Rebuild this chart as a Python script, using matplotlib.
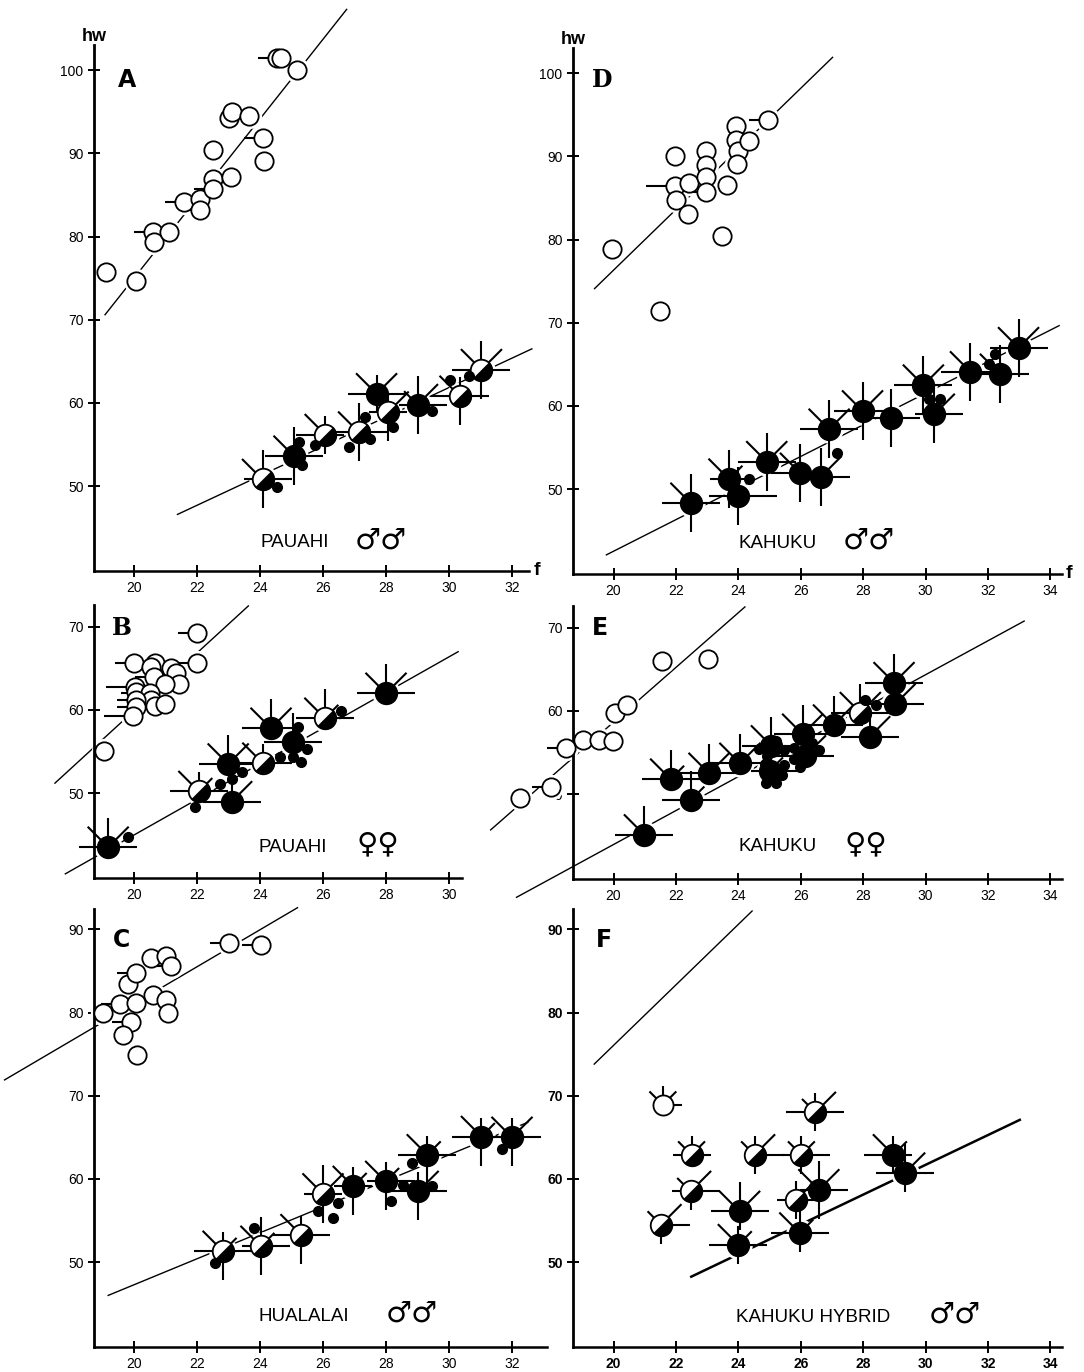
import numpy as np
import matplotlib
matplotlib.use("Agg")
import matplotlib.pyplot as plt
from matplotlib.path import Path

# ---- data (f = x, hw = y) ----

# A  Pauahi males
a_open_f = [19.12, 20.07, 20.6, 20.63, 21.12, 21.58, 22.08, 22.08, 22.52, 22.52,
            22.52, 23.07, 23.0, 23.1, 23.65, 24.1, 24.13, 24.55, 24.68, 25.19]
a_open_hw = [75.7, 74.6, 80.6, 79.4, 80.6, 84.1, 84.5, 83.2, 90.45, 86.9,
             85.7, 87.1, 94.2, 95.0, 94.5, 91.9, 89.1, 101.5, 101.5, 100.0]
a_open_rays = ["", "", "W1", "", "", "W1", "", "W1", "", "",
               "W1", "", "", "", "", "W1", "", "W1", "", ""]
a_big_f = [24.08, 25.08, 26.07, 27.13, 27.7, 28.07, 29.0, 30.35, 31.03]
a_big_hw = [50.8, 53.6, 56.2, 56.5, 61.1, 58.9, 59.8, 60.8, 64.0]
a_big_fill = ["h", "f", "h", "h", "f", "h", "f", "h", "h"]
a_big_rays = ["N2 S2 W1 E2 NW2", "N2 S2 W2 E2 NW2", "N1 S1 W2 E1 NW2",
              "N2 S2 W2 E2 NW2", "N1 S1 W2 E2 NW2 NE2", "N1 S2 W1 E1 NE2",
              "N2 S2 W1 E2 NW1 NE2", "N1 S2 W2 E2 NW2", "N2 S2 W2 E2 NW2 NE2"]
a_dot_f = [24.55, 25.23, 25.32, 25.74, 26.84, 27.33, 27.49, 28.23, 29.45, 30.04, 30.65]
a_dot_hw = [49.9, 55.3, 52.5, 54.9, 54.7, 58.3, 55.7, 57.1, 59.0, 62.7, 63.2]
a_line_f = [[19.08, 26.75], [21.38, 32.63]]
a_line_hw = [[70.6, 107.3], [46.6, 66.5]]

# B  Pauahi females
b_open_f = [21.99, 21.99, 20.0, 20.66, 20.53, 21.16, 21.33, 20.62, 21.42, 20.99,
            20.03, 20.05, 20.5, 20.53, 20.05, 20.07, 20.66, 20.99, 19.96, 19.06]
b_open_hw = [69.2, 65.7, 65.7, 65.7, 65.2, 65.0, 64.4, 63.9, 63.1, 63.1,
             62.7, 62.1, 62.0, 61.2, 61.2, 60.3, 60.5, 60.7, 59.3, 55.1]
b_open_rays = ["W1", "W1", "W1", "", "", "", "", "W1", "", "",
               "W2", "", "W2", "", "W1", "W1", "", "", "W2", ""]
b_big_f = [19.18, 22.06, 22.99, 23.1, 24.09, 24.35, 25.04, 26.06, 28.0]
b_big_hw = [43.5, 50.2, 53.5, 48.97, 53.6, 57.8, 56.2, 59.0, 62.0]
b_big_fill = ["f", "h", "f", "f", "h", "f", "f", "h", "f"]
b_big_rays = ["N2 W2 E2 NW2 NE2", "N1 W2 E2 NW2 NE1", "N2 W2 E2 NW2 NE2",
              "N1 W2 E2 NE2", "N1 W2 E2 NW2", "N2 W2 E2 NW2 NE2",
              "N2 W2 E2", "N2 W2 E2 NW2 NE1", "N2 W2 E2 NW2 NE2"]
b_dot_f = [19.81, 21.95, 22.74, 23.11, 23.43, 24.65, 25.04, 25.31, 25.49, 25.2, 26.58]
b_dot_hw = [44.7, 48.3, 51.1, 51.7, 52.6, 54.4, 54.4, 53.8, 55.3, 57.9, 59.9]
b_line_f = [[17.49, 23.63], [17.82, 30.29]]
b_line_hw = [[51.2, 72.5], [40.3, 67.0]]

# C  Hualalai males
c_open_f = [19.01, 19.54, 20.07, 19.81, 20.06, 19.92, 19.65, 20.09, 20.53, 21.03,
            21.19, 20.61, 21.03, 21.08, 23.02, 24.04]
c_open_hw = [79.9, 81.0, 81.2, 83.4, 84.8, 78.9, 77.3, 74.9, 86.6, 86.8,
             85.6, 82.1, 81.5, 79.9, 88.4, 88.1]
c_open_rays = ["", "W1", "", "", "W1", "W1", "", "", "", "",
               "W1", "", "", "", "W1", "W1"]
c_big_f = [22.83, 24.03, 25.3, 26.0, 26.96, 27.99, 29.02, 29.31, 31.03, 32.0]
c_big_hw = [51.3, 51.9, 53.3, 58.2, 59.1, 59.7, 58.5, 62.9, 65.1, 65.0]
c_big_fill = ["h", "h", "h", "h", "f", "f", "f", "f", "f", "f"]
c_big_rays = ["N1 S2 W2 E2 NW2 NE1", "N2 S2 W1 E2 NW2 NE1", "N1 S2 W2 E2 NW2",
              "N2 S2 W1 E1 NW2 NE2", "N1 S2 W1 E1 NW2 NE1", "N1 S2 W1 E2 NW2 NE1",
              "N1 S2 W2 E2 NE2", "N1 S2 W2 E2 NW2 NE1", "N1 S2 W2 E1 NW2 NE1",
              "N1 S2 W1 E2 NW2 NE2"]
c_dot_f = [22.57, 23.82, 25.83, 26.48, 26.33, 28.15, 28.54, 28.82, 29.46, 31.67]
c_dot_hw = [49.9, 54.1, 56.2, 57.1, 55.3, 57.3, 59.3, 61.9, 59.1, 63.6]
c_line_f = [[15.89, 25.19], [19.18, 32.5]]
c_line_hw = [[71.9, 92.6], [46.0, 66.8]]

# D  Kahuku males
d_open_f = [19.94, 21.98, 21.96, 21.99, 22.42, 22.4, 22.95, 22.97, 22.95, 22.95,
            23.64, 23.48, 21.49, 23.92, 23.94, 23.98, 23.97, 24.33, 24.94]
d_open_hw = [78.9, 90.1, 86.4, 84.8, 86.8, 83.1, 90.6, 88.9, 87.5, 85.7,
             86.6, 80.4, 71.4, 93.7, 92.0, 90.7, 89.1, 91.9, 94.4]
d_open_rays = ["", "", "W2", "", "", "", "", "", "", "W1",
               "", "", "", "", "", "", "", "", "W1"]
d_big_f = [22.48, 23.7, 24.0, 24.91, 25.99, 26.65, 26.91, 27.98, 28.9, 29.93,
           30.28, 31.44, 32.4, 32.98]
d_big_hw = [48.3, 51.2, 49.2, 53.3, 51.9, 51.5, 57.2, 59.4, 58.6, 62.5,
            59.0, 64.1, 63.8, 67.0]
d_big_fill = ["f"] * 14
d_big_rays = ["N2 S2 W2 E2 NW2", "N2 S2 W1 E1 NW2 NE1", "N2 S2 W2 E3",
              "N2 S2 W2 E2 NW2 NE2", "N2 S2 W2 E2 NW2", "N2 S2 W2 E2 NE2",
              "N2 S2 W2 E2 NW2 NE2", "N2 S2 W2 E2 NW2 NE2", "N2 S2 W2 E2",
              "N2 S2 W2 E2 NW2 NE2", "N2 S2 W1 E2 NE2", "N2 S2 W2 E2 NW2",
              "N2 S2 W2 E2 NW2", "N2 S2 W2 E2 NW2 NE2"]
d_dot_f = [24.33, 27.17, 30.11, 30.46, 32.04, 32.21]
d_dot_hw = [51.2, 54.4, 60.8, 60.8, 65.0, 66.3]
d_line_f = [[19.39, 27.02], [19.77, 34.28]]
d_line_hw = [[74.1, 101.9], [42.1, 69.65]]

# E  Kahuku females
e_open_f = [21.56, 23.02, 20.04, 20.44, 18.46, 19.02, 19.52, 19.98, 17.99, 16.99]
e_open_hw = [66.0, 66.3, 59.8, 60.7, 55.6, 56.5, 56.5, 56.4, 50.9, 49.5]
e_open_rays = ["", "", "", "", "W1", "", "", "", "W1", ""]
e_big_f = [20.99, 21.83, 22.48, 23.06, 24.05, 25.06, 25.0, 26.06, 26.15, 27.05,
           27.91, 28.21, 28.99, 29.02]
e_big_hw = [45.1, 51.8, 49.3, 52.5, 53.7, 55.8, 52.8, 57.2, 54.6, 58.3,
            59.8, 56.9, 63.4, 60.8]
e_big_fill = ["f", "f", "f", "f", "f", "f", "f", "f", "f", "f", "h", "f", "f", "f"]
e_big_rays = ["N2 W2 E2 NW2", "N2 W2 E2 NW2 NE1", "N2 W2 E2 NE1",
              "N2 W2 E2 NW2 NE2", "N2 W2 E2 NW2 NE2", "N2 W2 E1 NW2",
              "W1 E2 NE1", "N2 W2 E2 NW2 NE2", "N2 W2 E2 NE2",
              "N2 W2 E2 NW2 NE2", "N2 W2 E2 NW2 NE2", "N2 W2 E2 NE2",
              "N2 W2 E2 NW2 NE2", "N2 W2 E2 NE2"]
e_dot_f = [24.67, 24.91, 24.85, 25.22, 25.47, 25.47, 25.41, 24.88, 25.2, 25.78,
           25.99, 25.78, 26.36, 26.58, 28.06, 28.41]
e_dot_hw = [55.4, 54.6, 53.6, 56.4, 55.3, 53.5, 52.3, 51.3, 51.3, 54.2,
            53.3, 55.6, 56.1, 55.3, 61.3, 60.7]
e_line_f = [[16.06, 24.21], [16.89, 33.16]]
e_line_hw = [[45.7, 72.5], [37.6, 70.8]]

# F  Kahuku hybrid males
f_big_f = [21.58, 22.5, 22.47, 21.52, 24.52, 24.04, 24.0, 26.02, 26.47, 25.86,
           25.97, 26.58, 28.97, 29.33]
f_big_hw = [68.9, 62.9, 58.5, 54.5, 62.9, 56.1, 52.1, 62.9, 68.0, 57.5,
            53.5, 58.7, 62.9, 60.7]
f_big_fill = ["o", "h", "h", "h", "h", "f", "f", "h", "h", "h", "f", "f", "f", "f"]
f_big_rays = ["N1 E1 NW1 NE1", "N1 W1 E1 NW1 NE1", "S1 W1 E2 NW1 NE2",
              "S1 E2 NW1 NE2", "N1 S1 E2 NW1 NE2", "N2 S1 W2 E2 NW2 NE2",
              "N1 S1 W2 E2 NW2 NE1", "N1 S1 W1 E2 NW1 NE1", "N1 S1 W2 E2 NW1 NE2",
              "N1 S1 W1 E1 NE1", "N2 S1 W2 E2 NW2 NE1", "N2 S2 W1 E2 NW2 NE2",
              "N1 S1 W2 E1 NW2 NE1", "N2 S1 W2 E2 NE2"]
f_line_f = [[19.38, 24.44], [22.49, 33.02]]
f_line_hw = [[73.8, 92.2], [48.25, 67.1]]

panel_letters = ["A", "B", "C", "D", "E", "F"]
panel_names = ["PAUAHI", "PAUAHI", "HUALALAI", "KAHUKU", "KAHUKU", "KAHUKU HYBRID"]
panel_sex = ["\u2642\u2642", "\u2640\u2640", "\u2642\u2642", "\u2642\u2642", "\u2640\u2640", "\u2642\u2642"]
label_f = [24.0, 23.94, 23.96, 24.0, 23.99, 23.91]
label_hw = [43.2, 43.5, 43.5, 43.5, 43.7, 43.4]
sex_f = [27.0, 27.06, 28.0, 27.35, 27.4, 30.1]

# ---- drawing ----
plt.rcParams["font.family"] = ["Liberation Sans", "DejaVu Sans"]
W, H = 1084, 1372
fig = plt.figure(figsize=(W / 100, H / 100), dpi=100)

PPY = 8.32  # pixels per hw unit, same for every panel
ANG = {"N": 90, "S": 270, "E": 0, "W": 180, "NW": 135, "NE": 45}
HALF = Path.wedge(-135, 45)
HALF_SCALE = np.max(np.abs(HALF.vertices))


def make_axes(left, axis_y, xlim, ylim, ppx, xticks, yticks, bold=False):
    w = (xlim[1] - xlim[0]) * ppx
    h = (ylim[1] - ylim[0]) * PPY
    ax = fig.add_axes([left / W, (H - axis_y) / H, w / W, h / H])
    ax.set_xlim(xlim)
    ax.set_ylim(ylim)
    ax.patch.set_visible(False)
    ax.spines["top"].set_visible(False)
    ax.spines["right"].set_visible(False)
    ax.spines["left"].set_linewidth(2.0)
    ax.spines["bottom"].set_linewidth(1.8)
    ax.set_xticks(xticks)
    ax.set_yticks(yticks)
    ax.tick_params(direction="inout", length=9, width=1.4, labelsize=10, pad=3)
    if bold:
        for lab in ax.get_xticklabels() + ax.get_yticklabels():
            lab.set_fontweight("bold")
    return ax


def glyph(ax, ppx, x, y, kind, spec, ms):
    for code in spec.split():
        d = code.rstrip("0123456789")
        lvl = int(code[len(d):])
        L = 9 + 10 * lvl
        a = np.radians(ANG[d])
        ax.plot([x, x + L * np.cos(a) / ppx], [y, y + L * np.sin(a) / PPY],
                color="k", lw=1.5, solid_capstyle="butt", zorder=3, clip_on=False)
    # white halo breaks the regression line under the circle
    ax.plot(x, y, marker="o", ms=ms + 4, mfc="white", mec="white", zorder=2, clip_on=False)
    face = "k" if kind == "f" else "white"
    ax.plot(x, y, marker="o", ms=ms, mfc=face, mec="k", mew=1.3, zorder=4, clip_on=False)
    if kind == "h":
        ax.plot(x, y, marker=HALF, ms=ms * HALF_SCALE, mfc="k", mec="k", mew=0.5,
                zorder=5, clip_on=False)


def fill_panel(ax, ppx, open_f, open_hw, open_rays, big_f, big_hw, big_fill, big_rays,
               dot_f, dot_hw, line_f, line_hw, line_w):
    for i in range(len(line_f)):
        ax.plot(line_f[i], line_hw[i], color="k", lw=line_w[i], zorder=1, clip_on=False)
    for x, y, r in zip(open_f, open_hw, open_rays):
        glyph(ax, ppx, x, y, "o", r, 13.2)
    for x, y, k, r in zip(big_f, big_hw, big_fill, big_rays):
        glyph(ax, ppx, x, y, k, r, 15.5 if k != "o" else 14.5)
    ax.plot(dot_f, dot_hw, "o", ms=7, color="k", zorder=4, clip_on=False)


LPPX, RPPX = 31.5, 31.2
ax_a = make_axes(94, 571, (18.73, 32.55), (39.8, 103.0), LPPX, range(20, 33, 2), range(50, 101, 10))
ax_b = make_axes(94, 878, (18.73, 30.4), (39.8, 72.6), LPPX, range(20, 31, 2), [50, 60, 70])
ax_c = make_axes(94, 1347, (18.73, 33.1), (39.8, 92.4), LPPX, range(20, 33, 2), range(50, 91, 10))
ax_d = make_axes(573, 574, (18.7, 34.37), (39.8, 103.0), RPPX, range(20, 35, 2), range(50, 101, 10))
ax_e = make_axes(573, 879, (18.7, 34.37), (39.8, 72.6), RPPX, range(20, 35, 2), [50, 60, 70])
ax_f = make_axes(573, 1347, (18.7, 34.37), (39.8, 92.4), RPPX, range(20, 35, 2), range(50, 91, 10), bold=True)

fill_panel(ax_a, LPPX, a_open_f, a_open_hw, a_open_rays, a_big_f, a_big_hw, a_big_fill,
           a_big_rays, a_dot_f, a_dot_hw, a_line_f, a_line_hw, [1.0, 1.0])
fill_panel(ax_b, LPPX, b_open_f, b_open_hw, b_open_rays, b_big_f, b_big_hw, b_big_fill,
           b_big_rays, b_dot_f, b_dot_hw, b_line_f, b_line_hw, [1.0, 1.0])
fill_panel(ax_c, LPPX, c_open_f, c_open_hw, c_open_rays, c_big_f, c_big_hw, c_big_fill,
           c_big_rays, c_dot_f, c_dot_hw, c_line_f, c_line_hw, [1.0, 1.0])
fill_panel(ax_d, RPPX, d_open_f, d_open_hw, d_open_rays, d_big_f, d_big_hw, d_big_fill,
           d_big_rays, d_dot_f, d_dot_hw, d_line_f, d_line_hw, [1.0, 1.0])
fill_panel(ax_e, RPPX, e_open_f, e_open_hw, e_open_rays, e_big_f, e_big_hw, e_big_fill,
           e_big_rays, e_dot_f, e_dot_hw, e_line_f, e_line_hw, [1.0, 1.0])
fill_panel(ax_f, RPPX, [], [], [], f_big_f, f_big_hw, f_big_fill,
           f_big_rays, [], [], f_line_f, f_line_hw, [1.0, 1.8])

axes = [ax_a, ax_b, ax_c, ax_d, ax_e, ax_f]
for ax, name, sex, tx, sx, ty in zip(axes, panel_names, panel_sex, label_f, sex_f, label_hw):
    ax.text(tx, ty, name, fontsize=13.5, ha="left", va="center")
    ax.text(sx, ty + 0.3, sex, fontsize=21, ha="left", va="center", family="DejaVu Sans")

for ax in (ax_a, ax_d):
    ax.text(0, 1, "hw", transform=ax.transAxes, ha="center", va="bottom",
            fontsize=13, fontweight="bold")
    ax.annotate("f", xy=(1, 0), xycoords="axes fraction", xytext=(3, 0),
                textcoords="offset points", ha="left", va="center",
                fontsize=14, fontweight="bold")

letter_xy = [(127, 80), (122, 628), (122, 940), (602, 80), (600, 628), (604, 940)]
letter_family = ["DejaVu Sans", "DejaVu Serif", "DejaVu Sans", "DejaVu Serif", "DejaVu Sans", "DejaVu Sans"]
for let, (px, py), fam in zip(panel_letters, letter_xy, letter_family):
    fig.text(px / W, 1 - py / H, let, fontsize=17, fontweight="bold", family=fam,
             ha="center", va="center")

fig.savefig("out.png", dpi=100, facecolor="white")
